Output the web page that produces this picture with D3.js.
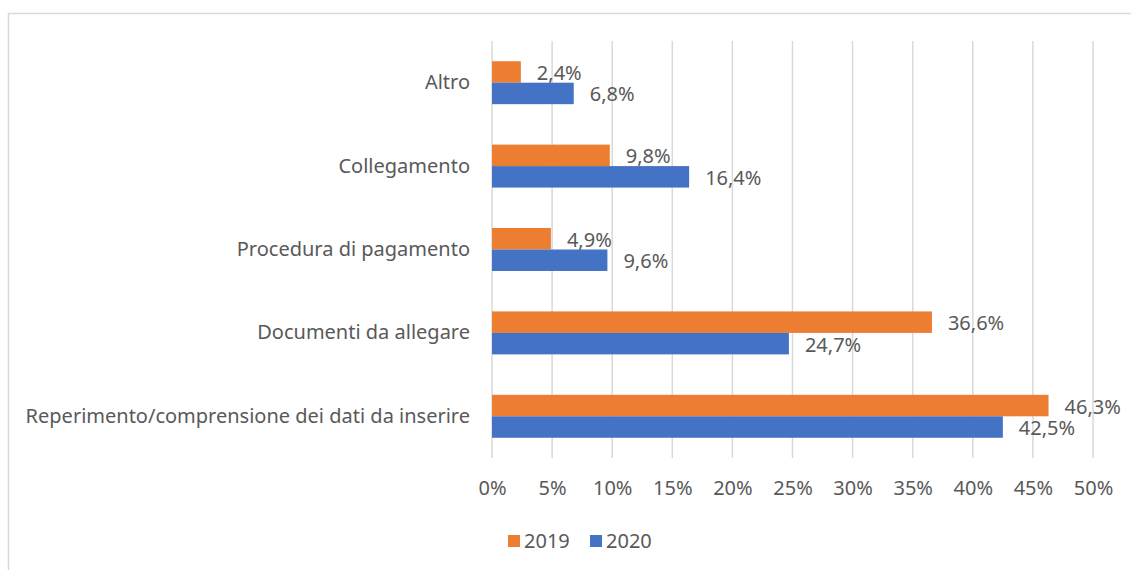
<!DOCTYPE html>
<html>
<head>
<meta charset="utf-8">
<script src="https://cdn.jsdelivr.net/npm/d3@7"></script>
<style>
  body { margin: 0; background: #fff; }
  text { font-family: "Noto Sans", sans-serif; fill: #595959; }
</style>
</head>
<body>
<div id="chart"></div>
<script>
// categories from top to bottom
var categories = ["Altro", "Collegamento", "Procedura di pagamento", "Documenti da allegare", "Reperimento/comprensione dei dati da inserire"];
var years = ["2019", "2020"];
var values2019 = [0.024, 0.098, 0.049, 0.366, 0.463];
var values2020 = [0.068, 0.164, 0.096, 0.247, 0.425];
var ticks = [0, 0.05, 0.10, 0.15, 0.20, 0.25, 0.30, 0.35, 0.40, 0.45, 0.50];
var colors = ["#ED7D31", "#4472C4"];

var width = 1131;
var height = 570;
var fontSize = "20px";

var svg = d3.select("#chart")
    .append("svg")
    .attr("width", width)
    .attr("height", height);

// chart frame (right and bottom edges fall outside the picture)
svg.append("rect")
    .attr("x", 8.5)
    .attr("y", 13.5)
    .attr("width", 1200)
    .attr("height", 600)
    .style("fill", "none")
    .style("stroke", "#D9D9D9")
    .style("stroke-width", 1.5);

var x = d3.scaleLinear().domain([0, 0.5]).range([492, 1093]);

var y = d3.scaleBand()
    .domain(categories)
    .range([41, 458])
    .paddingInner(0.485)
    .paddingOuter(0.2425);

var ySub = d3.scaleBand().domain(years).range([0, y.bandwidth()]);

var color = d3.scaleOrdinal().domain(years).range(colors);

var fmt = function (v) { return (v * 100).toFixed(1).replace(".", ",") + "%"; };

// gridlines
svg.append("g")
    .selectAll("line")
    .data(ticks)
    .enter()
    .append("line")
    .attr("x1", function (d) { return x(d); })
    .attr("x2", function (d) { return x(d); })
    .attr("y1", 41)
    .attr("y2", 458)
    .style("stroke", "#D9D9D9")
    .style("stroke-width", 1.5);

// x axis labels
var xAxis = d3.axisBottom(x)
    .tickValues(ticks)
    .tickSize(0)
    .tickPadding(0)
    .tickFormat(function (d) { return Math.round(d * 100) + "%"; });

svg.append("g")
    .attr("transform", "translate(0,481)")
    .call(xAxis)
    .call(function (g) { g.select(".domain").remove(); })
    .selectAll("text")
    .attr("dy", "0.71em")
    .style("font-size", fontSize)
    .style("font-family", "Noto Sans, sans-serif")
    .style("fill", "#595959");

// category labels
var yAxis = d3.axisLeft(y).tickSize(0).tickPadding(22);
svg.append("g")
    .attr("transform", "translate(492,0)")
    .call(yAxis)
    .call(function (g) { g.select(".domain").remove(); })
    .selectAll("text")
    .style("font-size", fontSize)
    .style("font-family", "Noto Sans, sans-serif")
    .style("fill", "#595959");

// bars
var rows = categories.map(function (c, i) {
    return { cat: c, vals: [{ year: "2019", v: values2019[i] }, { year: "2020", v: values2020[i] }] };
});

var groups = svg.selectAll("g.cat")
    .data(rows)
    .enter()
    .append("g")
    .attr("class", "cat")
    .attr("transform", function (d) { return "translate(0," + y(d.cat) + ")"; });

groups.selectAll("rect")
    .data(function (d) { return d.vals; })
    .enter()
    .append("rect")
    .attr("x", x(0))
    .attr("y", function (d) { return ySub(d.year); })
    .attr("width", function (d) { return x(d.v) - x(0); })
    .attr("height", ySub.bandwidth())
    .style("fill", function (d) { return color(d.year); });

groups.selectAll("text")
    .data(function (d) { return d.vals; })
    .enter()
    .append("text")
    .attr("x", function (d) { return x(d.v) + 16; })
    .attr("y", function (d) { return ySub(d.year) + ySub.bandwidth() / 2 + 1; })
    .attr("dy", "0.35em")
    .style("font-size", fontSize)
    .text(function (d) { return fmt(d.v); });

// legend
var legend = svg.append("g")
    .selectAll("g")
    .data(years)
    .enter()
    .append("g")
    .attr("transform", function (d, i) { return "translate(" + (508 + i * 82) + ",535)"; });

legend.append("rect")
    .attr("width", 12)
    .attr("height", 12)
    .style("fill", color);

legend.append("text")
    .attr("x", 16)
    .attr("y", 6)
    .attr("dy", "0.35em")
    .style("font-size", fontSize)
    .text(function (d) { return d; });
</script>
</body>
</html>
